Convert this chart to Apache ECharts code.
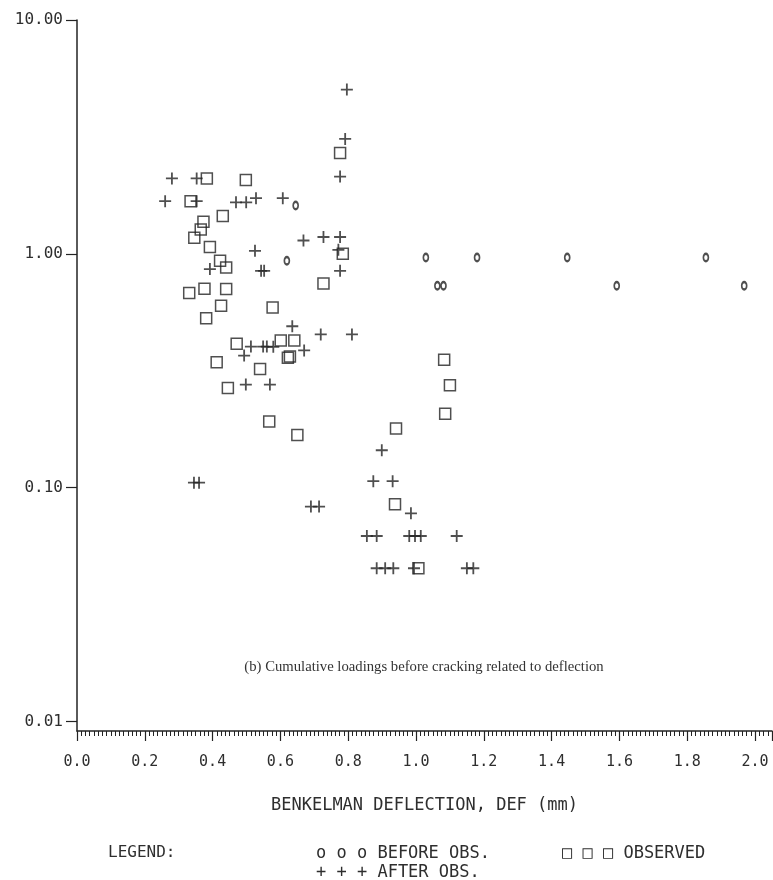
<!DOCTYPE html>
<html><head><meta charset="utf-8">
<script src="https://cdn.jsdelivr.net/npm/echarts@6/dist/echarts.min.js"></script>
<style>html,body{margin:0;padding:0;background:#fff}#c{width:773px;height:880px}</style>
</head><body><div id="c"></div><script>
// BEFORE OBS. (o)
const beforeX = [0.645, 0.619, 1.029, 1.180, 1.446, 1.855, 1.063, 1.081, 1.592, 1.968];
const beforeY = [1.61, 0.934, 0.965, 0.965, 0.965, 0.965, 0.73, 0.73, 0.73, 0.73];
// OBSERVED (squares)
const observedX = [0.776,0.383,0.498,0.335,0.430,0.373,0.365,0.346,0.392,0.784,0.422,0.440,0.727,0.331,0.376,0.440,0.425,0.577,0.381,0.471,0.601,0.641,0.628,0.622,0.412,0.540,0.445,0.567,0.650,1.083,1.100,1.086,0.941,0.938,1.007];
const observedY = [2.70,2.10,2.07,1.68,1.45,1.37,1.27,1.17,1.07,1.00,0.934,0.874,0.747,0.68,0.709,0.707,0.60,0.59,0.53,0.412,0.426,0.426,0.364,0.359,0.344,0.322,0.267,0.192,0.168,0.352,0.274,0.207,0.179,0.0848,0.0452];
// AFTER OBS. (+)
const afterX = [0.796,0.791,0.776,0.280,0.353,0.260,0.353,0.469,0.499,0.528,0.607,0.668,0.727,0.776,0.771,0.776,0.525,0.392,0.543,0.552,0.635,0.719,0.811,0.513,0.549,0.560,0.579,0.493,0.670,0.498,0.569,0.345,0.360,0.690,0.714,
  0.899,0.874,0.931,0.985,0.855,0.884,0.980,0.997,1.014,1.120,0.884,0.909,0.933,0.994,1.150,1.169];
const afterY = [5.04,3.10,2.14,2.10,2.10,1.68,1.68,1.66,1.66,1.73,1.73,1.14,1.18,1.18,1.04,0.846,1.03,0.86,0.846,0.846,0.49,0.452,0.452,0.401,0.401,0.401,0.40,0.367,0.386,0.276,0.276,0.105,0.105,0.083,0.083,
  0.1445,0.1066,0.1066,0.0776,0.0621,0.0621,0.0621,0.0621,0.0621,0.0621,0.0452,0.0452,0.0452,0.0452,0.0452,0.0452];

const xTickLabels = ['0.0','0.2','0.4','0.6','0.8','1.0','1.2','1.4','1.6','1.8','2.0'];
const yTickLabels = ['0.01','0.10','1.00','10.00'];
const xTitle = 'BENKELMAN DEFLECTION, DEF (mm)';
const caption = '(b) Cumulative loadings before cracking related to deflection';

const zip = (a, b) => a.map((v, i) => [v, b[i]]);
const ink = '#232323';
const mono = '"DejaVu Sans Mono", monospace';
const plusPath = 'path://M4.25,0H5.75V4.25H10V5.75H5.75V10H4.25V5.75H0V4.25H4.25Z';

const chart = echarts.init(document.getElementById('c'), null, {renderer: 'canvas'});
chart.setOption({
  animation: false,
  backgroundColor: '#fff',
  grid: {left: 77, top: 20, width: 695, height: 711},
  xAxis: {
    type: 'value', min: 0, max: 2.05, interval: 0.2,
    axisLine: {show: true, lineStyle: {color: ink, width: 1.5}},
    axisTick: {show: true, length: 10, lineStyle: {color: ink, width: 1.2}},
    minorTick: {show: true, splitNumber: 16, length: 5, lineStyle: {color: ink, width: 1}},
    splitLine: {show: false},
    axisLabel: {
      showMaxLabel: false, margin: 24, fontFamily: mono, fontSize: 15, color: '#2e2e2e',
      formatter: v => { const i = Math.round(v / 0.2); return Math.abs(v - i * 0.2) < 1e-6 ? (xTickLabels[i] || '') : ''; }
    },
    name: xTitle, nameLocation: 'middle', nameGap: 66,
    nameTextStyle: {fontFamily: mono, fontSize: 17, color: '#2e2e2e'}
  },
  yAxis: {
    type: 'log', logBase: 10, min: 0.0091, max: 10,
    axisLine: {show: true, lineStyle: {color: ink, width: 1.5}},
    axisTick: {show: true, length: 11, lineStyle: {color: ink, width: 1.2}},
    splitLine: {show: false},
    minorTick: {show: false},
    axisLabel: {
      showMinLabel: false, margin: 14, fontFamily: mono, fontSize: 16, color: '#2e2e2e',
      formatter: v => { const e = Math.round(Math.log10(v)); return Math.abs(Math.log10(v) - e) < 1e-6 ? (yTickLabels[e + 2] || '') : ''; }
    }
  },
  series: [
    {name: 'BEFORE OBS.', type: 'scatter', data: zip(beforeX, beforeY),
     symbol: 'circle', symbolSize: [5, 7.5],
     itemStyle: {color: 'rgba(0,0,0,0)', borderColor: ink, borderWidth: 2}},
    {name: 'OBSERVED', type: 'scatter', data: zip(observedX, observedY),
     symbol: 'rect', symbolSize: 11,
     itemStyle: {color: 'rgba(0,0,0,0)', borderColor: ink, borderWidth: 1.5}},
    {name: 'AFTER OBS.', type: 'scatter', data: zip(afterX, afterY),
     symbol: plusPath, symbolSize: 12,
     itemStyle: {color: ink}}
  ],
  graphic: [
    {type: 'text', x: 424, y: 667, style: {text: caption, font: '14.7px "Liberation Serif", serif', fill: '#333', align: 'center', verticalAlign: 'middle'}},
    {type: 'text', left: 108, top: 845, style: {text: 'LEGEND:', font: '16px ' + mono, fill: '#2e2e2e'}},
    {type: 'text', left: 316, top: 845, style: {text: 'o o o BEFORE OBS.', font: '17px ' + mono, fill: '#2e2e2e'}},
    {type: 'text', left: 562, top: 845, style: {text: '\u25A1 \u25A1 \u25A1 OBSERVED', font: '17px ' + mono, fill: '#2e2e2e'}},
    {type: 'text', left: 316, top: 864, style: {text: '+ + + AFTER OBS.', font: '17px ' + mono, fill: '#2e2e2e'}}
  ]
});
</script></body></html>
